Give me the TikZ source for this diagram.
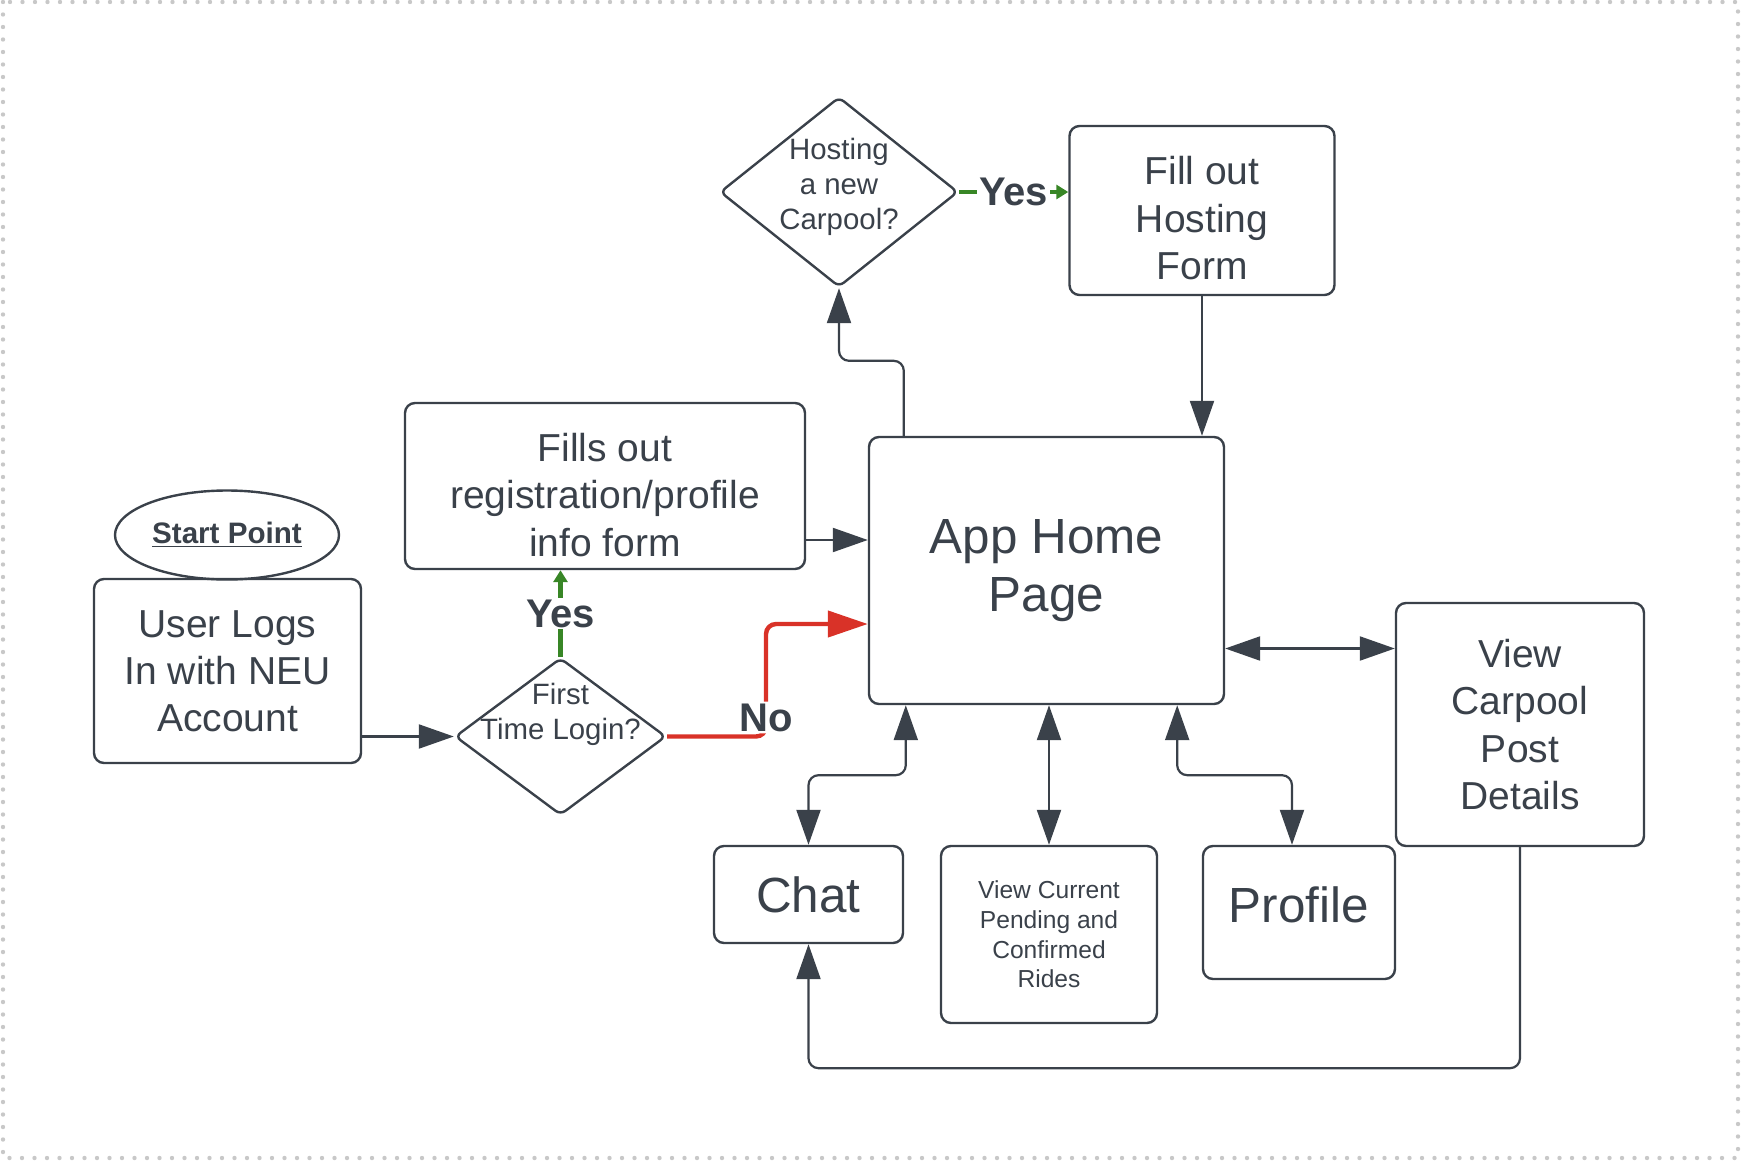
\documentclass[tikz,border=0pt]{standalone}
\usepackage{fontspec}
\setmainfont{Liberation Sans}
\usetikzlibrary{shapes.geometric,arrows.meta}

\definecolor{ink}{RGB}{58,65,74}
\definecolor{okgreen}{RGB}{56,134,38}
\definecolor{nored}{RGB}{217,50,40}
\definecolor{frame}{RGB}{200,200,200}

\tikzset{
  box/.style={draw=ink, line width=1.2pt, rounded corners=5pt, align=center, text=ink, inner sep=0pt},
  decision/.style={draw=ink, line width=1.2pt, diamond, rounded corners=3pt, inner sep=0pt},
  startnode/.style={ellipse, draw=ink, line width=1.2pt, text=ink, inner sep=0pt,
    font=\fontsize{14.8pt}{16pt}\selectfont\bfseries},
  flow/.style={draw=ink, line width=1.1pt, rounded corners=5pt},
  yesline/.style={draw=okgreen, line width=2.2pt, -{Triangle[length=6pt,width=7pt]}},
  noline/.style={draw=nored, line width=2.2pt, rounded corners=5pt, -{Triangle[length=20pt,width=13pt]}},
  tag/.style={fill=white, text=ink, inner sep=1pt, font=\fontsize{20pt}{22pt}\selectfont\bfseries},
  bigtext/.style={font=\fontsize{24.7pt}{29pt}\selectfont, text=ink},
  midtext/.style={font=\fontsize{19.5pt}{23.6pt}\selectfont, text=ink},
  smalltext/.style={font=\fontsize{14.7pt}{17.6pt}\selectfont, text=ink},
  tinytext/.style={font=\fontsize{12.3pt}{14.8pt}\selectfont}
}

\begin{document}
\begin{tikzpicture}[x=0.5pt, y=-0.5pt, >={Triangle[length=17.5pt,width=12pt]}]
  \useasboundingbox (0,0) rectangle (1742,1162);
  \draw[draw=frame, line width=2.2pt, line cap=round, dash pattern=on 0pt off 6.25pt] (3,2) rectangle (1738,1158);

  \node[startnode, minimum width=112pt, minimum height=44.5pt] (start) at (227,535) {\underline{Start Point}};
  \node[box, midtext, minimum width=133.5pt, minimum height=92pt] (login) at (227.5,671) {User Logs\\In with NEU\\Account};
  \node[decision, minimum width=105.5pt, minimum height=78.5pt,
        label={[smalltext, align=center, yshift=11.25pt]center:First\\Time Login?}] (first) at (560.5,736.5) {};
  \node[box, minimum width=200pt, minimum height=83pt,
        label={[midtext, align=center, yshift=-4.5pt]center:Fills out\\registration/profile\\info form}] (register) at (605,486) {};
  \node[box, bigtext, minimum width=177.5pt, minimum height=133.5pt] (home) at (1046.5,570.5) {App Home\\Page};
  \node[decision, minimum width=119pt, minimum height=95pt,
        label={[smalltext, align=center, yshift=2.5pt]center:Hosting\\a new\\Carpool?}] (hosting) at (839,192) {};
  \node[box, minimum width=132.5pt, minimum height=84.5pt,
        label={[midtext, align=center, yshift=-3.8pt]center:Fill out\\Hosting\\Form}] (hostform) at (1202,210.5) {};
  \node[box, midtext, minimum width=124pt, minimum height=121.5pt] (post) at (1520,724.5) {View\\Carpool\\Post\\Details};
  \node[box, bigtext, minimum width=94.5pt, minimum height=48.5pt] (chat) at (808.5,894.5) {Chat};
  \node[box, tinytext, minimum width=108pt, minimum height=88.5pt] (rides) at (1049,934.5) {View Current\\Pending and\\Confirmed\\Rides};
  \node[box, minimum width=96pt, minimum height=66.5pt,
        label={[bigtext, yshift=3.8pt]center:Profile}] (profile) at (1299,912.5) {};

  \coordinate (bend) at (766,624);
  \coordinate (regout) at ([yshift=-27pt]register.east);
  \coordinate (homeup) at ([xshift=18pt]home.north west);
  \coordinate (homeright) at ([yshift=-39pt]home.east);
  \coordinate (homechat) at ([xshift=19pt]home.south west);
  \coordinate (homeprof) at ([xshift=-24pt]home.south east);

  \draw[flow, ->] (login.east |- first.west) -- (first.west);
  \draw[yesline] (first.north) -- node[tag] {Yes} (first.north |- register.south);
  \draw[noline] (first.east) -| node[tag, yshift=9.5pt] {No} (bend) -- (home.west |- bend);
  \draw[flow, ->] (regout) -- (home.west |- regout);
  \draw[flow, ->] (homeup) -- ++(0,-75) -| (hosting.south);
  \draw[yesline] (hosting.east) -- node[tag] {Yes} (hostform.west |- hosting.east);
  \draw[flow, ->] (hostform.south) -- (hostform.south |- home.north);
  \draw[flow, <->] (homeright) -- (post.west |- homeright);
  \draw[flow, <->] (homechat) -- ++(0,70) -| (chat.north);
  \draw[flow, <->] (rides.north |- home.south) -- (rides.north);
  \draw[flow, <->] (homeprof) -- ++(0,70) -| ([xshift=-3.5pt]profile.north);
  \draw[flow, ->] (post.south) -- ++(0,221) -| (chat.south);
\end{tikzpicture}
\end{document}
